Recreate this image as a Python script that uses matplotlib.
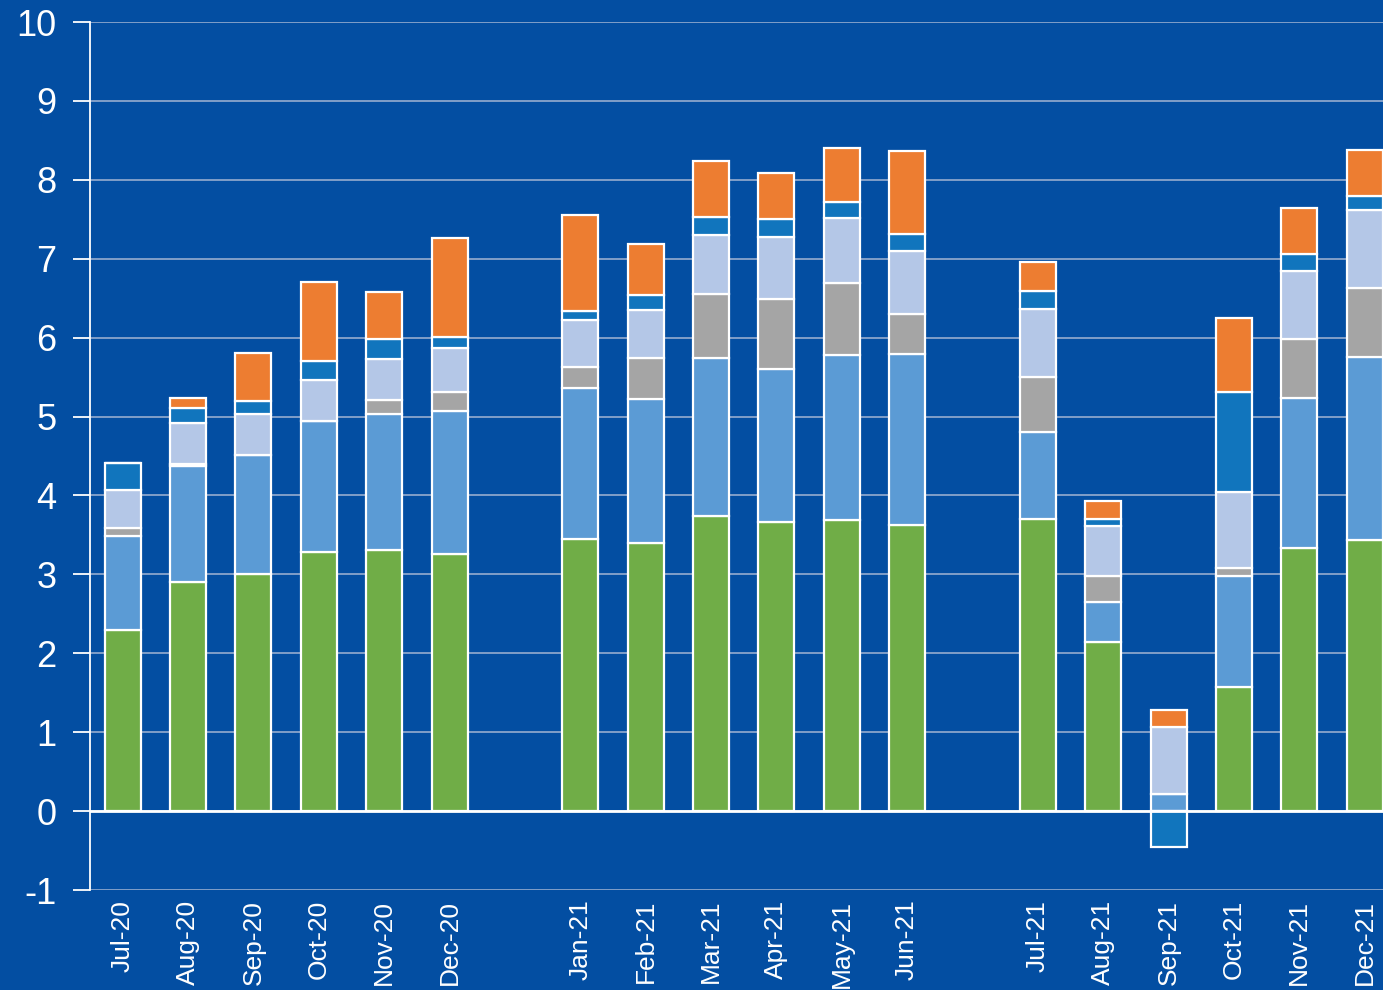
import matplotlib
matplotlib.use('Agg')
import matplotlib.pyplot as plt
import numpy as np

months = ['Jul-20', 'Aug-20', 'Sep-20', 'Oct-20', 'Nov-20', 'Dec-20',
          'Jan-21', 'Feb-21', 'Mar-21', 'Apr-21', 'May-21', 'Jun-21',
          'Jul-21', 'Aug-21', 'Sep-21', 'Oct-21', 'Nov-21', 'Dec-21']

# stacked components, bottom to top
green = [2.29, 2.90, 3.00, 3.28, 3.31, 3.26,
         3.45, 3.40, 3.74, 3.66, 3.69, 3.62,
         3.70, 2.14, 0.00, 1.57, 3.33, 3.43]
mid_blue = [1.20, 1.47, 1.51, 1.66, 1.72, 1.81,
            1.91, 1.82, 2.00, 1.94, 2.09, 2.17,
            1.10, 0.51, 0.22, 1.41, 1.90, 2.32]
gray = [0.10, 0.03, 0.00, 0.00, 0.18, 0.24,
        0.27, 0.52, 0.81, 0.89, 0.91, 0.51,
        0.70, 0.33, 0.00, 0.10, 0.75, 0.88]
lavender = [0.48, 0.52, 0.52, 0.52, 0.52, 0.56,
            0.59, 0.61, 0.75, 0.78, 0.83, 0.80,
            0.86, 0.63, 0.84, 0.96, 0.86, 0.99]
dark_blue = [0.34, 0.19, 0.17, 0.24, 0.25, 0.14,
             0.12, 0.19, 0.23, 0.23, 0.20, 0.21,
             0.23, 0.09, -0.46, 1.27, 0.22, 0.17]
orange = [0.00, 0.12, 0.60, 1.00, 0.60, 1.25,
          1.21, 0.65, 0.71, 0.59, 0.68, 1.06,
          0.37, 0.23, 0.22, 0.94, 0.58, 0.59]

series = [green, mid_blue, gray, lavender, dark_blue, orange]
colors = ['#70AD47', '#5B9BD5', '#A5A5A5', '#B4C7E7', '#1175BD', '#ED7D31']

bg = '#034EA2'

# three half-year groups with an empty slot between them
xpos = np.array([0, 1, 2, 3, 4, 5, 7, 8, 9, 10, 11, 12, 14, 15, 16, 17, 18, 19])

fig = plt.figure(figsize=(13.83, 9.9), dpi=100, facecolor=bg)
ax = fig.add_axes([90 / 1383, 100 / 990, 1 - 90 / 1383, 868 / 990])
ax.set_facecolor(bg)

pos_bottom = np.zeros(len(months))
neg_bottom = np.zeros(len(months))
for vals, c in zip(series, colors):
    v = np.array(vals)
    bottom = np.where(v >= 0, pos_bottom, neg_bottom)
    ax.bar(xpos, v, width=0.55, bottom=bottom, color=c,
           edgecolor='white', linewidth=1.6, zorder=3)
    pos_bottom += np.where(v > 0, v, 0)
    neg_bottom += np.where(v < 0, v, 0)

ax.set_ylim(-1, 10)
ax.set_xlim(-0.5, 19.28)
ax.set_yticks(range(-1, 11))
ax.set_yticklabels([str(i) for i in range(-1, 11)])
ax.set_xticks(xpos)
ax.set_xticklabels(months, rotation=90)

ax.grid(axis='y', color='#A3B5D3', linewidth=1.1, zorder=1)
ax.axhline(0, color='white', linewidth=2, zorder=4)

for s in ['top', 'right', 'bottom']:
    ax.spines[s].set_visible(False)
ax.spines['left'].set_color('white')
ax.spines['left'].set_linewidth(1.3)

ax.tick_params(axis='y', colors='white', length=12, width=1.3, pad=12,
               labelsize=26)
ax.tick_params(axis='x', colors='white', length=0, pad=7, labelsize=19)
for lbl in ax.get_xticklabels() + ax.get_yticklabels():
    lbl.set_fontfamily('Liberation Sans')

fig.savefig('out.png', dpi=100, facecolor=bg)
